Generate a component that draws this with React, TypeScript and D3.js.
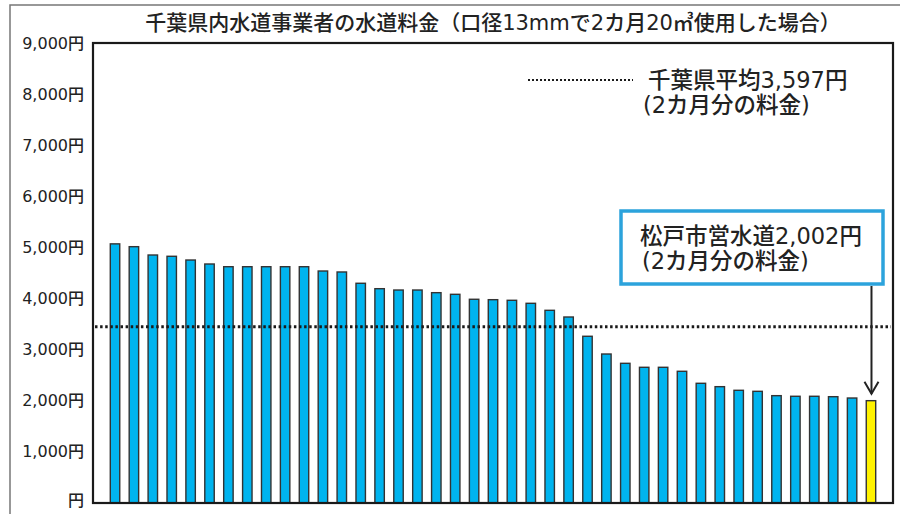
import React from 'react';
import * as d3 from 'd3';

// 2-month water bill (13mm, 20m3) for each water utility in Chiba, sorted high to low
const fees = [
  5070, 5015, 4852, 4827, 4754, 4676, 4623, 4623, 4623, 4623, 4623, 4539, 4520, 4299,
  4193, 4167, 4167, 4115, 4083, 3986, 3978, 3966, 3907, 3770, 3639, 3262, 2915, 2733,
  2655, 2655, 2577, 2342, 2276, 2205, 2185, 2100, 2088, 2088, 2080, 2054, 2002,
];
const highlightIndex = fees.length - 1; // Matsudo
const averageLine = 3450; // where the dotted line is drawn
const yTicks = [0, 1000, 2000, 3000, 4000, 5000, 6000, 7000, 8000, 9000];

const title = '千葉県内水道事業者の水道料金（口径13mmで2カ月20㎥使用した場合）';
const legendLines = ['千葉県平均3,597円', '(2カ月分の料金)'];
const calloutLines = ['松戸市営水道2,002円', '(2カ月分の料金)'];

const W = 900;
const H = 514;
const plot = { left: 93, right: 893, top: 43, bottom: 503 };
// DejaVu first so digits come out wide, Noto CJK picks up the Japanese
const font = '"DejaVu Sans", "Noto Sans CJK JP", sans-serif';

export default function App() {
  const x = d3
    .scaleBand<number>()
    .domain(d3.range(fees.length))
    .range([plot.left, plot.right])
    .paddingInner(0.5)
    .paddingOuter(0.915);
  const y = d3.scaleLinear().domain([0, 9000]).range([plot.bottom, plot.top]);

  const fmt = (v: number) => (v === 0 ? '円' : d3.format(',')(v) + '円');

  const arrowX = x(highlightIndex)! + x.bandwidth() / 2 + 0.5;
  const boxBottom = 284;
  const arrowTip = y(fees[highlightIndex]) - 7;

  return (
    <svg
      width={W}
      height={H}
      style={{ position: 'absolute', left: 0, top: 0, background: '#fff' }}
      fontFamily={font}
    >
      {/* outer frame */}
      <rect x={10} y={5} width={910} height={530} fill="none" stroke="#777" strokeWidth={1.5} />

      <text x={493} y={23} textAnchor="middle" dominantBaseline="central" fontSize={21} fontWeight={500} fill="#222">
        {title}
      </text>

      {/* y tick labels */}
      {yTicks.map(t => (
        <text
          key={t}
          x={84}
          y={y(t) - (t === 0 ? 3 : 0)}
          textAnchor="end"
          dominantBaseline="central"
          fontSize={16}
          fontWeight={500}
          fill="#222"
        >
          {fmt(t)}
        </text>
      ))}

      {/* bars */}
      {fees.map((v, i) => (
        <rect
          key={i}
          x={x(i)}
          y={y(v)}
          width={x.bandwidth()}
          height={y(0) - y(v)}
          fill={i === highlightIndex ? '#FFF200' : '#00B4EF'}
          stroke="#333"
          strokeWidth={1.4}
        />
      ))}

      {/* plot frame */}
      <rect
        x={plot.left}
        y={plot.top}
        width={plot.right - plot.left}
        height={plot.bottom - plot.top}
        fill="none"
        stroke="#1a1a1a"
        strokeWidth={2.2}
      />

      {/* average dotted line */}
      <line
        x1={plot.left + 2}
        x2={plot.right - 2}
        y1={y(averageLine)}
        y2={y(averageLine)}
        stroke="#1a1a1a"
        strokeWidth={3}
        strokeDasharray="2.5,2.6"
      />

      {/* legend */}
      <line x1={528} x2={633} y1={80} y2={80} stroke="#1a1a1a" strokeWidth={2} strokeDasharray="2,2" />
      <text fontSize={22.5} fontWeight={500} fill="#222" dominantBaseline="central">
        {legendLines.map((s, i) => (
          <tspan key={s} x={i === 0 ? 648 : 643} y={80 + i * 25}>
            {s}
          </tspan>
        ))}
      </text>

      {/* callout */}
      <rect x={621} y={211} width={262} height={73} fill="#fff" stroke="#2CA3DC" strokeWidth={3.5} />
      <text fontSize={22.5} fontWeight={500} fill="#222" dominantBaseline="central">
        {calloutLines.map((s, i) => (
          <tspan key={s} x={i === 0 ? 640 : 642} y={236 + i * 25}>
            {s}
          </tspan>
        ))}
      </text>
      <line x1={arrowX} x2={arrowX} y1={boxBottom + 2} y2={arrowTip} stroke="#222" strokeWidth={2} />
      <path
        d={`M${arrowX - 7},${arrowTip - 12} L${arrowX},${arrowTip} L${arrowX + 7},${arrowTip - 12}`}
        fill="none"
        stroke="#222"
        strokeWidth={2}
      />
    </svg>
  );
}
